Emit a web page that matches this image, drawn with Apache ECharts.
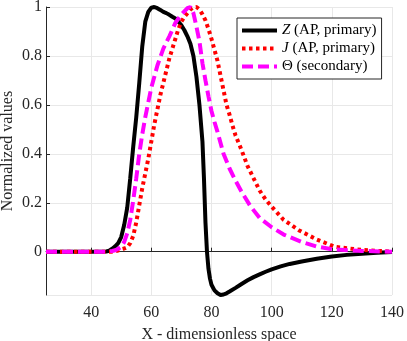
<!DOCTYPE html>
<html>
<head>
<meta charset="utf-8">
<script src="https://cdn.jsdelivr.net/npm/echarts@6/dist/echarts.min.js"></script>
<style>
  html, body { margin: 0; padding: 0; background: #fff; }
  #chart { width: 407px; height: 341px; }
</style>
</head>
<body>
<div id="chart"></div>
<script>
// values, [x, y]
const zData = [
  [25, 0], [30, 0], [35, 0], [40, 0], [45, 0.001], [46, 0.004], [47, 0.012], [48, 0.022],
  [49, 0.035], [50, 0.06], [51, 0.11], [52, 0.18], [53, 0.3], [54, 0.43], [55, 0.55],
  [56, 0.69], [57, 0.84], [58, 0.94], [59, 0.98], [60, 0.997], [61, 1.0], [62, 0.995],
  [63, 0.988], [64, 0.98], [65, 0.975], [66, 0.968], [67, 0.96], [68, 0.953], [69, 0.94],
  [70, 0.925], [71, 0.905], [72, 0.88], [73, 0.85], [74, 0.8], [75, 0.715], [76, 0.6],
  [77, 0.45], [77.5, 0.3], [78, 0.12], [78.5, 0.0], [79, -0.07], [79.5, -0.11], [80, -0.135],
  [81, -0.158], [82, -0.17], [83, -0.177], [84, -0.175], [85, -0.17], [86, -0.163],
  [88, -0.148], [90, -0.132], [92, -0.117], [94, -0.104], [96, -0.093], [98, -0.082],
  [100, -0.072], [103, -0.06], [106, -0.05], [110, -0.04], [115, -0.029], [120, -0.02],
  [125, -0.013], [130, -0.008], [135, -0.004], [140, -0.001]
];
const jData = [
  [25, 0], [30, 0], [35, 0], [40, 0], [45, 0], [47, 0], [48, 0.002], [49, 0.005],
  [50, 0.01], [51, 0.013], [52, 0.018], [53, 0.035], [54, 0.065], [55, 0.12], [56, 0.19],
  [57, 0.26], [58, 0.32], [59, 0.38], [60, 0.45], [61, 0.52], [62, 0.58], [63, 0.64],
  [64, 0.69], [65, 0.74], [66, 0.79], [67, 0.83], [68, 0.87], [69, 0.91], [70, 0.94],
  [71, 0.96], [72, 0.975], [73, 0.99], [74, 0.998], [75, 1.0], [76, 0.99], [77, 0.97],
  [78, 0.945], [79, 0.91], [80, 0.87], [81, 0.825], [82, 0.78], [83, 0.72], [84, 0.66],
  [85, 0.6], [86, 0.56], [87, 0.515], [88, 0.475], [90, 0.415], [92, 0.35], [94, 0.3],
  [96, 0.25], [98, 0.213], [100, 0.184], [104, 0.13], [109, 0.088], [115, 0.05],
  [121, 0.02], [130, 0.007], [140, 0]
];
const tData = [
  [25, 0], [30, 0], [35, 0], [40, 0], [45, 0], [46, 0.001], [47, 0.003], [48, 0.006],
  [49, 0.012], [50, 0.02], [51, 0.04], [52, 0.075], [53, 0.13], [54, 0.21], [55, 0.3],
  [56, 0.4], [57, 0.48], [58, 0.55], [59, 0.61], [60, 0.67], [62, 0.76], [64, 0.83],
  [66, 0.88], [68, 0.935], [70, 0.97], [72, 0.995], [73, 1.0], [74, 0.975], [75, 0.92],
  [76, 0.86], [77, 0.77], [78, 0.7], [79, 0.635], [80, 0.575], [81, 0.53], [82, 0.49],
  [84, 0.4], [86, 0.34], [88, 0.29], [90, 0.245], [93, 0.185], [96, 0.138], [100, 0.1],
  [104, 0.07], [110, 0.04], [115, 0.021], [120, 0.01], [130, 0.003], [140, 0]
];
const legendNames = {
  Z: "{i|Z} (AP, primary)",
  J: "{i|J} (AP, primary)",
  "Θ": "Θ (secondary)"
};

const font = "Liberation Serif";
const chart = echarts.init(document.getElementById("chart"));
chart.setOption({
  animation: false,
  textStyle: { fontFamily: font },
  grid: { left: 46, right: 15, top: 7, bottom: 46, outerBoundsMode: "none" },
  legend: {
    orient: "vertical",
    left: 237,
    top: 18,
    padding: [5, 5, 5, 3],
    itemGap: 3,
    itemWidth: 35,
    itemHeight: 14,
    backgroundColor: "#fff",
    borderColor: "#262626",
    borderWidth: 1,
    borderRadius: 0,
    itemStyle: { opacity: 0 },
    lineStyle: { width: 4 },
    formatter: (name) => legendNames[name],
    textStyle: {
      fontFamily: font,
      fontSize: 15,
      color: "#000",
      rich: { i: { fontFamily: font, fontStyle: "italic", fontSize: 15, color: "#000" } }
    }
  },
  xAxis: {
    type: "value",
    min: 25,
    max: 140,
    name: "X - dimensionless space",
    nameLocation: "middle",
    nameGap: 32,
    nameTextStyle: { fontFamily: font, fontSize: 16, color: "#262626" },
    axisLine: { lineStyle: { color: "#262626", width: 1 } },
    axisTick: { inside: true, length: 4, lineStyle: { color: "#262626" } },
    axisLabel: { fontFamily: font, fontSize: 16, color: "#262626", margin: 10, showMinLabel: false },
    splitLine: { show: true, lineStyle: { color: "#e8e8e8", width: 1 } }
  },
  yAxis: {
    type: "value",
    min: -0.177,
    max: 1,
    name: "Normalized values",
    nameLocation: "middle",
    nameGap: 30,
    nameMoveOverlap: false,
    nameTextStyle: { fontFamily: font, fontSize: 16, color: "#262626" },
    axisLine: { show: true, lineStyle: { color: "#262626", width: 1 } },
    axisTick: { show: true, inside: true, length: 4, lineStyle: { color: "#262626" } },
    axisLabel: { fontFamily: font, fontSize: 16, color: "#262626", margin: 4, showMinLabel: false },
    splitLine: { show: true, lineStyle: { color: "#e8e8e8", width: 1 } }
  },
  series: [
    {
      name: "Z", type: "line", data: zData, showSymbol: false, symbol: "none",
      lineStyle: { color: "#000", width: 4 }, itemStyle: { color: "#000" }
    },
    {
      name: "J", type: "line", data: jData, showSymbol: false, symbol: "none",
      lineStyle: { color: "#ff0000", width: 4, type: [3.5, 3.5], cap: "butt" },
      itemStyle: { color: "#ff0000" }
    },
    {
      name: "Θ", type: "line", data: tData, showSymbol: false, symbol: "none",
      lineStyle: { color: "#ff00ff", width: 4, type: [11, 5], cap: "butt" },
      itemStyle: { color: "#ff00ff" }
    }
  ]
});
</script>
</body>
</html>
